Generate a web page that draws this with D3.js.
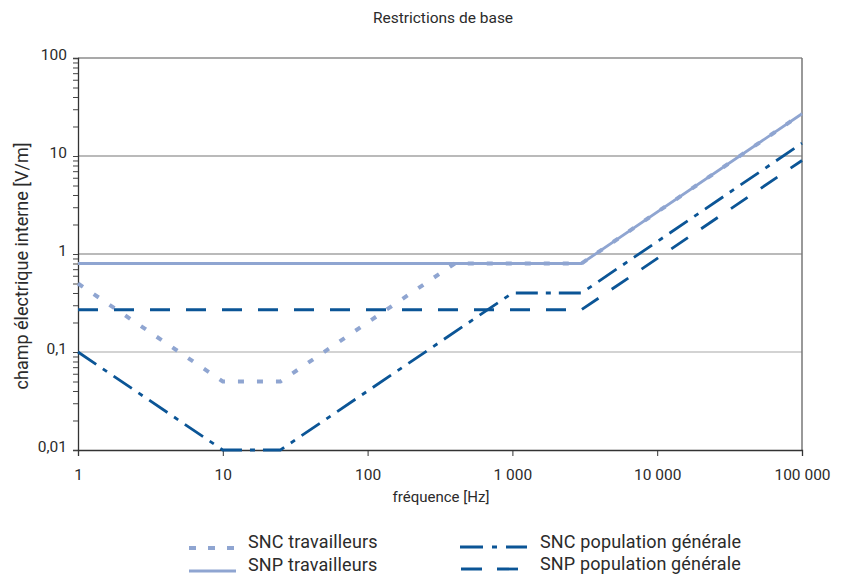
<!DOCTYPE html>
<html><head><meta charset="utf-8">
<script src="https://cdn.jsdelivr.net/npm/d3@7"></script>
<style>
body{margin:0;background:#fff;}
text{font-family:Roboto, "Liberation Sans", sans-serif;fill:#2b2b2b;}
</style></head>
<body><svg id="c" width="848" height="577"></svg>
<script>
const xTicks = [1, 10, 100, 1000, 10000, 100000];
const xTickLabels = ["1", "10", "100", "1 000", "10 000", "100 000"];
const yTicks = [0.01, 0.1, 1, 10, 100];
const yTickLabels = ["0,01", "0,1", "1", "10", "100"];

// breakpoints [frequency Hz, field V/m]
const sncTravailleurs = [[1,0.5],[10,0.05],[25,0.05],[400,0.8],[3000,0.8],[100000,27]];
const snpTravailleurs = [[1,0.8],[3000,0.8],[100000,27]];
const sncPopulation   = [[1,0.1],[10,0.01],[25,0.01],[1000,0.4],[3000,0.4],[100000,13.5]];
const snpPopulation   = [[1,0.27],[3000,0.27],[100000,9]];

const seriesNames = ["SNC travailleurs","SNP travailleurs","SNC population générale","SNP population générale"];

const LIGHT = "#8fa5d1", DARK = "#0b5596";
const styles = [
  {data:sncTravailleurs, color:LIGHT, w:4, dash:"6,13", ldash:"7,12"},
  {data:snpTravailleurs, color:LIGHT, w:2.8, dash:null, ldash:null},
  {data:sncPopulation, color:DARK, w:2.8, dash:"22,8,5,8", ldash:"23,9,5,9"},
  {data:snpPopulation, color:DARK, w:2.8, dash:"20,16", ldash:"21,15"}
];

const svg = d3.select("#c");
const L=78, R=802, T=58, B=450;
const x = d3.scaleLog().domain([1,100000]).range([L,R]);
const y = d3.scaleLog().domain([0.01,100]).range([B,T]);

// title
svg.append("text").attr("x",443).attr("y",23).attr("text-anchor","middle")
  .style("font-size","15.5px").text("Restrictions de base");

// grid lines
[0.1,1,10].forEach(v=>{
  svg.append("line").attr("x1",L).attr("x2",R).attr("y1",y(v)).attr("y2",y(v))
    .attr("stroke", v===0.1 ? "#a8a8a8" : "#777").attr("stroke-width",1.2);
});
// top & right border
svg.append("line").attr("x1",L).attr("x2",R).attr("y1",T).attr("y2",T).attr("stroke","#555").attr("stroke-width",1.2);
svg.append("line").attr("x1",R).attr("x2",R).attr("y1",T).attr("y2",B).attr("stroke","#777").attr("stroke-width",1.5);

// y axis
const minorY = [];
for (let d=-2; d<2; d++) for (let m=1; m<10; m++) minorY.push(m*Math.pow(10,d));
minorY.push(100);
const yAxis = d3.axisLeft(y).tickValues(minorY).tickSize(5).tickFormat(()=>"");
const gy = svg.append("g").attr("transform",`translate(${L},0)`).call(yAxis);
gy.select(".domain").attr("stroke","#333").attr("stroke-width",1.3);
gy.selectAll(".tick line").attr("stroke","#444");
yTicks.forEach((v,i)=>{
  svg.append("text").attr("x",67).attr("y",y(v)).attr("dy","0.1em").attr("text-anchor","end")
    .style("font-size","15.5px").text(yTickLabels[i]);
});

// x axis
const xAxis = d3.axisBottom(x).tickValues(xTicks).tickSize(6).tickFormat((d,i)=>xTickLabels[i]);
const gx = svg.append("g").attr("transform",`translate(0,${B})`).call(xAxis);
gx.select(".domain").attr("stroke","#333").attr("stroke-width",1.3);
gx.selectAll(".tick line").attr("stroke","#333");
gx.selectAll(".tick text").style("font-size","15.5px").attr("dy","1.35em").attr("fill","#2b2b2b")
  .style("font-family","Roboto, sans-serif");

// axis titles
svg.append("text").attr("x",441).attr("y",502).attr("text-anchor","middle")
  .style("font-size","15px").text("fréquence [Hz]");
svg.append("text").attr("transform","translate(28,266) rotate(-90)").attr("text-anchor","middle")
  .style("font-size","18px").text("champ électrique interne [V/m]");

// series
const line = d3.line().x(d=>x(d[0])).y(d=>y(d[1]));
const drawOrder = [1,0,3,2];
drawOrder.forEach(i=>{
  const s = styles[i];
  svg.append("path").datum(s.data).attr("d",line).attr("fill","none")
    .attr("stroke",s.color).attr("stroke-width",s.w)
    .attr("stroke-dasharray",s.dash).attr("stroke-linejoin","miter");
});

// legend
const legendPos = [
  {sx:189, ex:234, ty:542, ly:548, tx:248},
  {sx:189, ex:236, ty:565, ly:571, tx:248},
  {sx:460, ex:527, ty:542, ly:547, tx:540},
  {sx:461, ex:521, ty:564, ly:569, tx:540}
];
styles.forEach((s,i)=>{
  const p = legendPos[i];
  svg.append("line").attr("x1",p.sx).attr("x2",p.ex).attr("y1",p.ly).attr("y2",p.ly)
    .attr("stroke",s.color).attr("stroke-width",s.w)
    .attr("stroke-dasharray", s.ldash);
  svg.append("text").attr("x",p.tx).attr("y",p.ty).attr("dy","0.35em")
    .style("font-size","18px").style("letter-spacing","0.15px").text(seriesNames[i]);
});
</script>
</body></html>
